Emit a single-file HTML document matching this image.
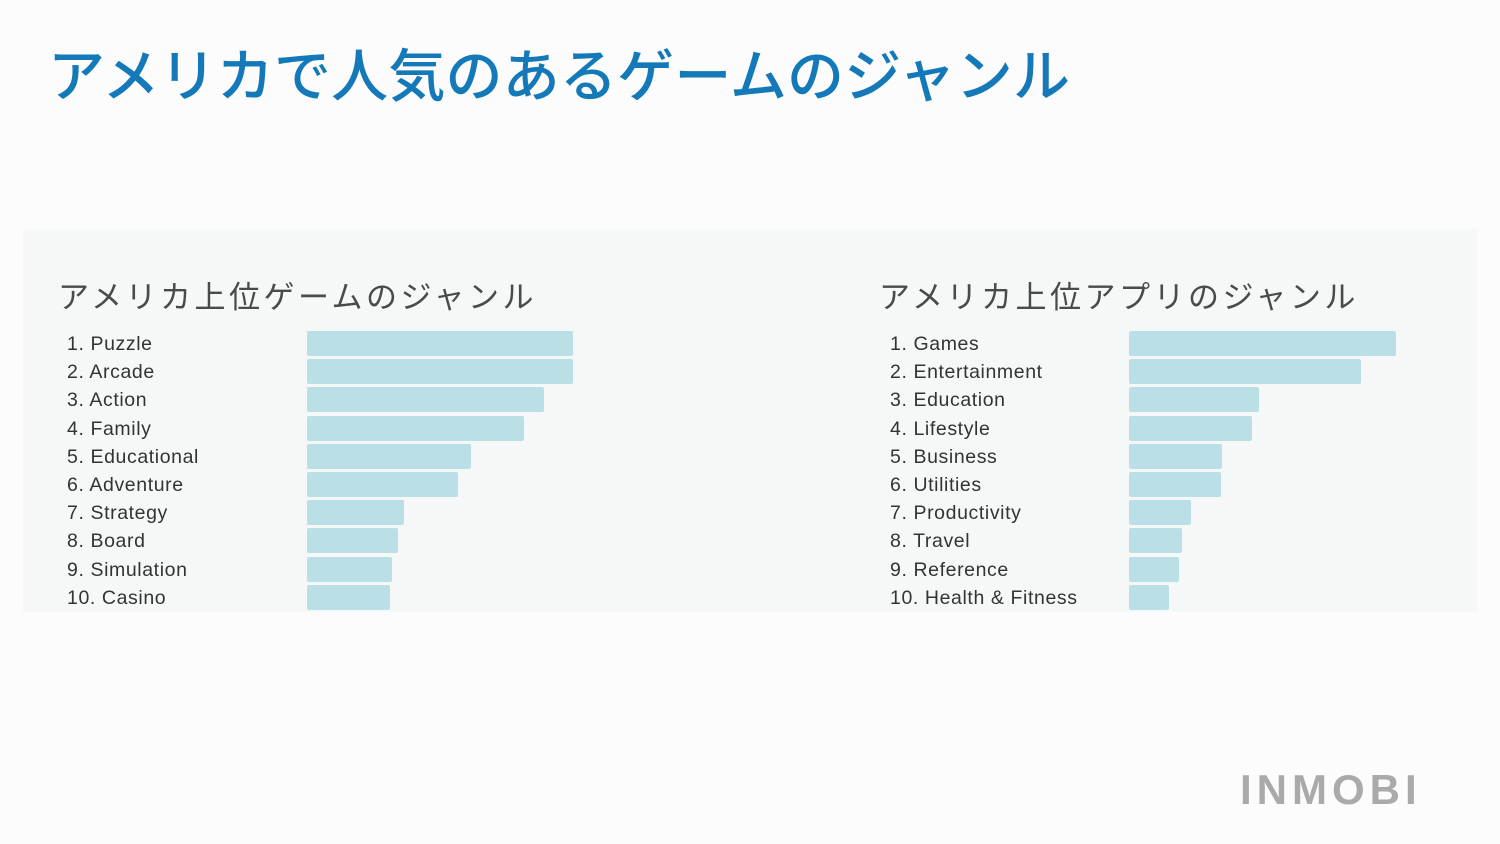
<!DOCTYPE html>
<html><head><meta charset="utf-8"><style>
body{margin:0;width:1500px;height:844px;background:#fcfcfc;position:relative;overflow:hidden;font-family:"Liberation Sans","Noto Sans CJK JP",sans-serif}
.t{position:absolute;left:48px;top:34px;font-size:57px;color:#1479b8;letter-spacing:0.2px;white-space:nowrap;font-family:"Noto Sans CJK JP",sans-serif;line-height:76px;font-weight:500}
.panel{position:absolute;left:23px;top:229px;width:1454px;height:383px;background:#f6f8f8;overflow:hidden}
.h{position:absolute;top:44px;font-size:31px;color:#4a4a4a;letter-spacing:3.5px;white-space:nowrap;font-family:"Noto Sans CJK JP",sans-serif;font-weight:400;line-height:44px}
.l{position:absolute;font-size:19.5px;color:#333;white-space:nowrap;line-height:24px;letter-spacing:0.6px}
.b{position:absolute;height:25px;background:#badfe6;border-radius:2px}
.logo{position:absolute;left:1240px;top:766px;font-size:42px;color:#aaa;letter-spacing:5px;font-weight:bold;font-family:"Liberation Sans",sans-serif}
</style></head><body>
<div class="t">アメリカで人気のあるゲームのジャンル</div>
<div class="panel" id="p">
<div class="h" style="left:35px">アメリカ上位ゲームのジャンル</div>
<div class="h" style="left:856px">アメリカ上位アプリのジャンル</div>
</div>
<div class="logo">INMOBI</div>
<script>
var p=document.getElementById('p');
var L=["1. Puzzle","2. Arcade","3. Action","4. Family","5. Educational","6. Adventure","7. Strategy","8. Board","9. Simulation","10. Casino"];
var LE=[573,573,544,524,471,458,404,398,392,390,373];
var R=["1. Games","2. Entertainment","3. Education","4. Lifestyle","5. Business","6. Utilities","7. Productivity","8. Travel","9. Reference","10. Health & Fitness"];
var RE=[1396,1361,1259,1252,1222,1221,1191,1182,1179,1169,1167];
var h='';
for(var i=0;i<11;i++){var y=331+i*28.2-229;
h+='<div class="b" style="left:'+(307-23)+'px;top:'+y+'px;width:'+(LE[i]-307)+'px"></div>';
h+='<div class="b" style="left:'+(1129-23)+'px;top:'+y+'px;width:'+(RE[i]-1129)+'px"></div>';
if(i<10){h+='<div class="l" style="left:44px;top:'+(y+1)+'px">'+L[i]+'</div>';
h+='<div class="l" style="left:867px;top:'+(y+1)+'px">'+R[i].replace('&','&amp;')+'</div>';}}
p.insertAdjacentHTML('beforeend',h);
</script>
</body></html>
